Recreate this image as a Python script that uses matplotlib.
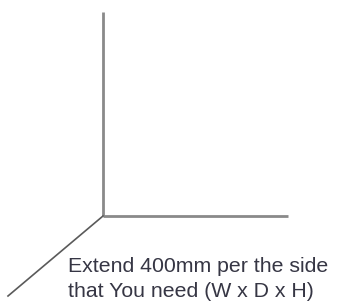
import matplotlib.pyplot as plt

# puntos de los tres ejes (coordenadas en pixeles de la imagen)
eje_alto_x = [103, 103]
eje_alto_y = [216, 12]
eje_ancho_x = [103, 288]
eje_ancho_y = [216, 216]
eje_fondo_x = [103, 8]
eje_fondo_y = [216, 296]

linea1 = "Extend 400mm per the side"
linea2 = "that You need (W x D x H)"

fig = plt.figure(figsize=(3.42, 3.02), dpi=100)
ax = fig.add_axes([0, 0, 1, 1])
ax.set_xlim(0, 342)
ax.set_ylim(302, 0)
ax.axis('off')

ax.plot(eje_alto_x, eje_alto_y, color='#8a8a8a', lw=2.0, solid_capstyle='butt')
ax.plot(eje_ancho_x, eje_ancho_y, color='#8a8a8a', lw=2.0, solid_capstyle='butt')
ax.plot(eje_fondo_x, eje_fondo_y, color='#5a5a5a', lw=1.2)

fuente = {'family': 'Liberation Sans', 'color': '#363644', 'size': 15.3}
ax.text(68, 272, linea1, fontdict=fuente, va='baseline', ha='left')
ax.text(68, 297, linea2, fontdict=fuente, va='baseline', ha='left')

fig.savefig('out.png', dpi=100)
